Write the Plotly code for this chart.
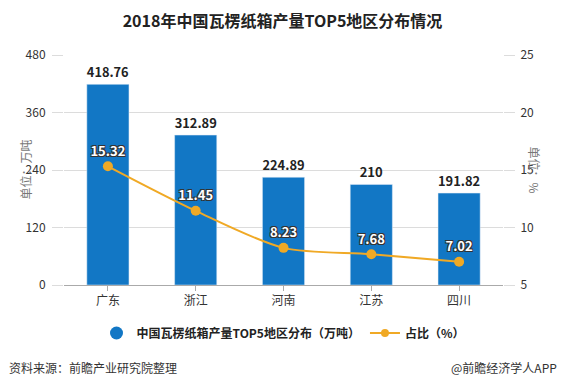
import plotly.graph_objects as go

regions = ["广东", "浙江", "河南", "江苏", "四川"]
output_wt = [418.76, 312.89, 224.89, 210, 191.82]
share_pct = [15.32, 11.45, 8.23, 7.68, 7.02]
left_ticks = [0, 120, 240, 360, 480]
right_ticks = [5, 10, 15, 20, 25]

FONT = "Noto Sans CJK SC, Microsoft YaHei, sans-serif"
BLUE = "#1277c5"
ORANGE = "#f0a925"

fig = go.Figure()

fig.add_trace(go.Bar(
    x=regions, y=output_wt, marker_color=BLUE, width=0.48,
    text=[f"{v:g}" for v in output_wt], textposition="outside",
    textfont=dict(family=FONT, size=13, color="#222", weight="bold"),
    cliponaxis=False, showlegend=False, yaxis="y",
))

fig.add_trace(go.Scatter(
    x=regions, y=share_pct, yaxis="y2", mode="lines+markers+text",
    line=dict(color=ORANGE, width=2, shape="spline", smoothing=0.8),
    marker=dict(color=ORANGE, size=10),
    text=[f"{v:.2f}" for v in share_pct], textposition="top center",
    textfont=dict(family=FONT, size=13, color="white", weight="bold",
                  shadow="-1px -1px 0 #333, 1px -1px 0 #333, -1px 1px 0 #333, 1px 1px 0 #333"),
    cliponaxis=False, showlegend=False,
))

# legend entries
fig.add_trace(go.Scatter(
    x=[None], y=[None], mode="markers", marker=dict(color=BLUE, size=13, symbol="circle"),
    name="<b>中国瓦楞纸箱产量TOP5地区分布（万吨）</b>",
))
fig.add_trace(go.Scatter(
    x=[None], y=[None], mode="lines+markers", yaxis="y2",
    line=dict(color=ORANGE, width=2), marker=dict(color=ORANGE, size=8),
    name="<b>占比（%）</b>",
))

W = 439.0
H = 230.0
fig.update_layout(
    width=565, height=388,
    margin=dict(l=64, r=62, t=55, b=103),
    paper_bgcolor="white", plot_bgcolor="white",
    font=dict(family=FONT, size=12, color="#333"),
    title=dict(text="<b>2018年中国瓦楞纸箱产量TOP5地区分布情况</b>",
               x=0.5, xanchor="center", y=1 - 21 / 388, yanchor="middle",
               font=dict(size=16, color="#222")),
    xaxis=dict(
        type="category", showgrid=False, showline=True, linecolor="#aaa", linewidth=1,
        ticks="outside", ticklen=5, tickcolor="#aaa",
        tickfont=dict(size=12, color="#333"),
    ),
    yaxis=dict(
        range=[0, 480], tickvals=left_ticks, showgrid=True, gridcolor="#dcdcdc",
        ticks="outside", ticklen=11, tickcolor="#dcdcdc", zeroline=False,
        showline=False, tickfont=dict(size=12, color="#333"), ticklabelstandoff=4,
    ),
    yaxis2=dict(
        range=[5, 25], tickvals=right_ticks, overlaying="y", side="right",
        showgrid=False, ticks="outside", ticklen=11, tickcolor="#dcdcdc",
        zeroline=False, showline=False, tickfont=dict(size=12, color="#333"),
        ticklabelstandoff=3,
    ),
    legend=dict(orientation="h", x=0.5, xanchor="center", y=-(333 - 285) / H, yanchor="middle",
                font=dict(size=12, color="#222"), itemwidth=30, traceorder="normal"),
    annotations=[
        dict(text="单位：万吨", xref="paper", yref="paper", x=(14 - 64) / W, y=(285 - 170) / H,
             showarrow=False, textangle=-90, font=dict(size=12, color="#777")),
        dict(text="单位：%", xref="paper", yref="paper", x=(545 - 64) / W, y=(285 - 170) / H,
             showarrow=False, textangle=90, font=dict(size=12, color="#777")),
        dict(text="资料来源：前瞻产业研究院整理", xref="paper", yref="paper",
             x=(7 - 64) / W, xanchor="left", y=-(367 - 285) / H, yanchor="middle",
             showarrow=False, font=dict(size=12, color="#333")),
        dict(text="@前瞻经济学人APP", xref="paper", yref="paper",
             x=(559 - 64) / W, xanchor="right", y=-(367 - 285) / H, yanchor="middle",
             showarrow=False, font=dict(size=12, color="#333")),
    ],
)

fig.write_html("out.html", config={"displayModeBar": False},
               post_script="document.body.style.margin='0';")
